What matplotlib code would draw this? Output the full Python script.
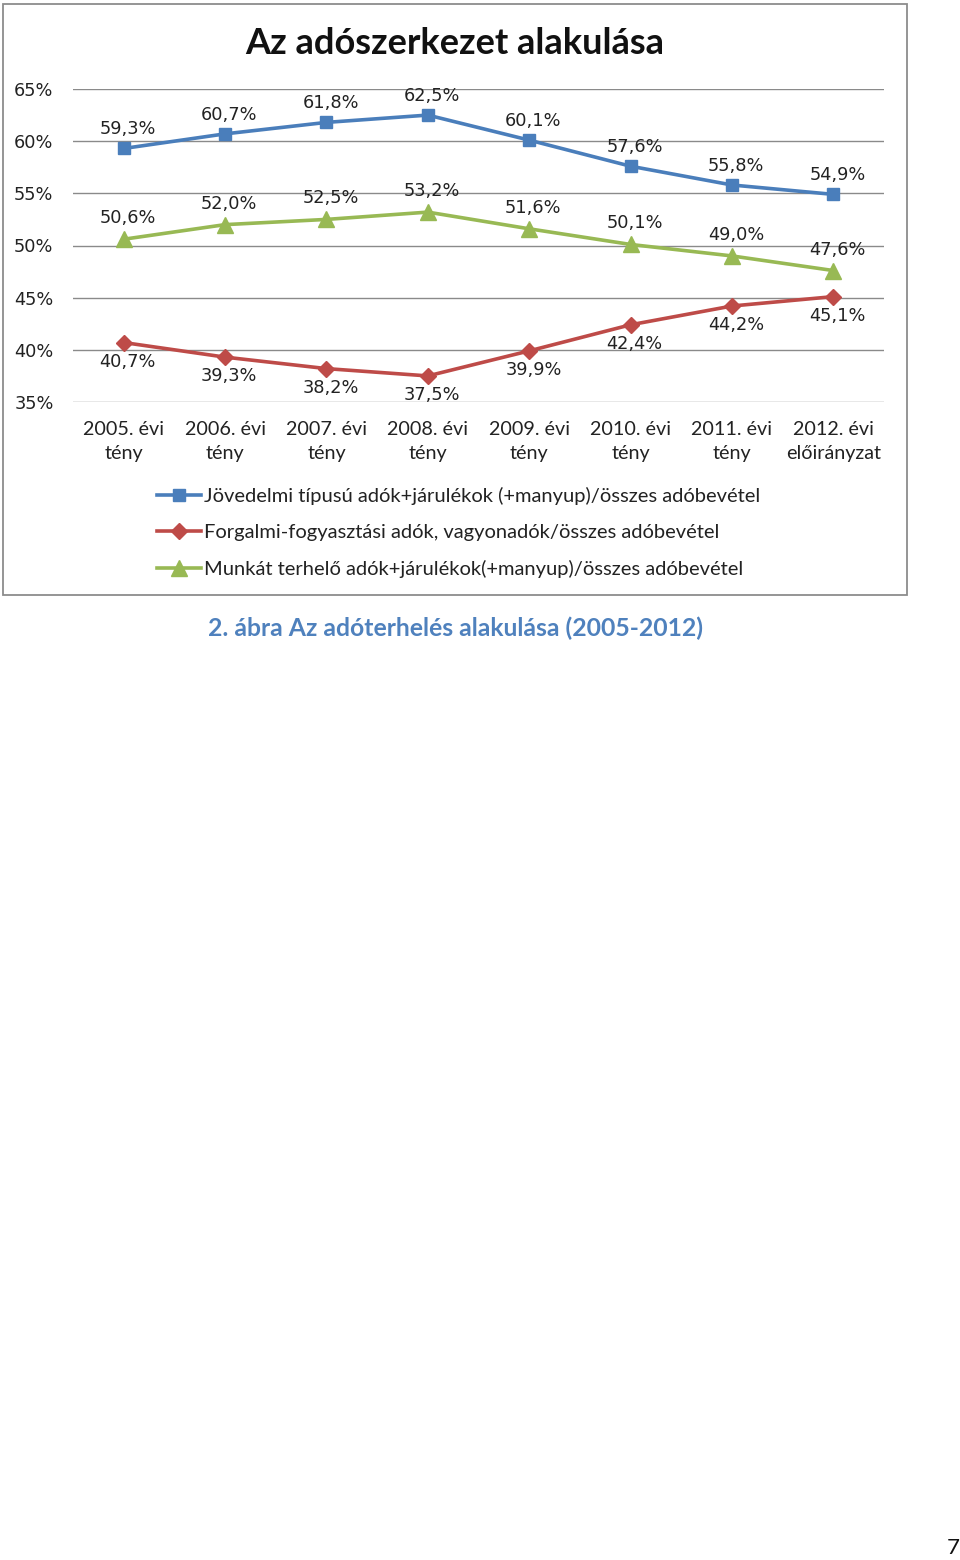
import matplotlib.pyplot as plt
import matplotlib.patches as mpatches
import numpy as np

# adatok
categories = ['2005. évi\ntény', '2006. évi\ntény', '2007. évi\ntény', '2008. évi\ntény',
              '2009. évi\ntény', '2010. évi\ntény', '2011. évi\ntény', '2012. évi\nelőirányzat']
jovedelmi = [59.3, 60.7, 61.8, 62.5, 60.1, 57.6, 55.8, 54.9]
forgalmi = [40.7, 39.3, 38.2, 37.5, 39.9, 42.4, 44.2, 45.1]
munkat = [50.6, 52.0, 52.5, 53.2, 51.6, 50.1, 49.0, 47.6]
names = ['Jövedelmi típusú adók+járulékok (+manyup)/összes adóbevétel',
         'Forgalmi-fogyasztási adók, vagyonadók/összes adóbevétel',
         'Munkát terhelő adók+járulékok(+manyup)/összes adóbevétel']
yticks = [35, 40, 45, 50, 55, 60, 65]

BLUE = '#4A7EBB'
RED = '#BE4B48'
GREEN = '#98B954'

fig = plt.figure(figsize=(9.6, 15.6), dpi=100)
W, H = 960, 1560

def fx(px):
    return px / W

def fy(py):
    return 1 - py / H

# keret a diagram körül
fig.add_artist(mpatches.Rectangle((fx(3), fy(595)), fx(904), 591 / H, transform=fig.transFigure,
                                  fill=False, edgecolor='#8c8c8c', linewidth=1.3))

ax = fig.add_axes([fx(73), fy(402), fx(884) - fx(73), fy(89) - fy(402)])
x = np.arange(len(categories))

# (értékek, szín, jelölő, méret, címke eltolás pixelben felfelé)
series = [(jovedelmi, BLUE, 's', 9, 19),
          (forgalmi, RED, 'D', 8.5, -19),
          (munkat, GREEN, '^', 11, 21)]
for (vals, col, mk, ms, off), name in zip(series, names):
    ax.plot(x, vals, color=col, marker=mk, markersize=ms, linewidth=2.6, label=name)
    for xi, v in zip(x, vals):
        ax.annotate(f'{v:.1f}%'.replace('.', ','), (xi, v), xytext=(3, off / 1.389),
                    textcoords='offset points', ha='center', va='center',
                    fontsize=12.8, family='DejaVu Sans', color='#222222')

ax.set_xlim(-0.5, len(categories) - 0.5)
ax.set_ylim(35, 65)
ax.set_yticks(yticks)
ax.set_yticklabels([f'{t}%' for t in yticks], family='DejaVu Sans', fontsize=12.8, color='#222222')
ax.set_xticks(x)
ax.set_xticklabels(categories, family='Lato', fontsize=14.2, color='#222222', linespacing=1.5)
ax.tick_params(axis='y', length=0, pad=14)
ax.tick_params(axis='x', length=0, pad=13.5)
ax.grid(axis='y', color='#8a8a8a', linewidth=1)
ax.set_axisbelow(True)
for s in ax.spines.values():
    s.set_visible(False)
ax.patch.set_alpha(0)

fig.text(fx(455), fy(43), 'Az adószerkezet alakulása', ha='center', va='center',
         fontsize=26, fontweight='bold', family='Lato', color='#111111')

handles, labels = ax.get_legend_handles_labels()
fig.legend(handles, labels, loc='upper left', bbox_to_anchor=(fx(157), fy(487)),
           frameon=False, prop={'family': 'Lato', 'size': 14.5}, handlelength=2.2,
           handletextpad=0.15, labelspacing=0.93, borderpad=0, borderaxespad=0,
           labelcolor='#222222')

fig.text(fx(455), fy(628), '2. ábra Az adóterhelés alakulása (2005-2012)', ha='center', va='center',
         fontsize=17.8, fontweight='bold', family='Lato', color='#4F81BD')
fig.text(fx(953), fy(1548), '7', ha='center', va='center', fontsize=16, family='Lato', color='#111111')

fig.savefig('out.png', dpi=100)
